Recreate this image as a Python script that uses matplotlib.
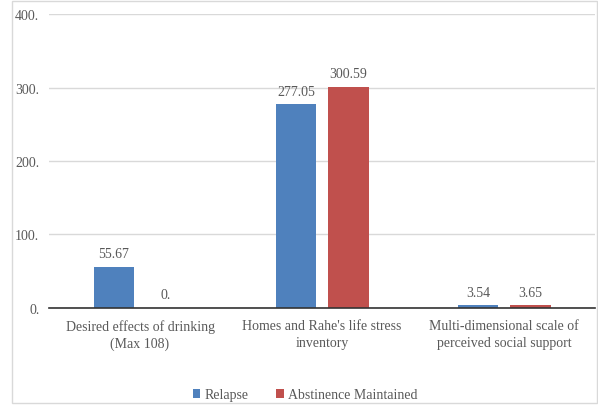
import numpy as np
import matplotlib.pyplot as plt
from matplotlib.patches import Rectangle

categories = ["Desired effects of drinking\n(Max 108)",
              "Homes and Rahe's life stress\ninventory",
              "Multi-dimensional scale of\nperceived social support"]
relapse = [55.67, 277.05, 3.54]
abstinence = [0, 300.59, 3.65]
relapse_labels = ["55.67", "277.05", "3.54"]
abstinence_labels = ["0.", "300.59", "3.65"]
yticks = [0, 100, 200, 300, 400]
ytick_labels = ["0.", "100.", "200.", "300.", "400."]

plt.rcParams['font.family'] = ['Liberation Serif', 'DejaVu Serif']
txt = '#595959'

fig = plt.figure(figsize=(5.98, 4.06), dpi=100)
ax = fig.add_axes([0.082, 0.239, 0.913, 0.724])

x = np.arange(len(categories))
w = 0.225
off = 0.143
b1 = ax.bar(x - off, relapse, w, color='#4F81BD', label='Relapse', zorder=3)
b2 = ax.bar(x + off, abstinence, w, color='#C0504D', label='Abstinence Maintained', zorder=3)

for rect, lab in zip(b1, relapse_labels):
    ax.text(rect.get_x() + rect.get_width() / 2, rect.get_height() + 9, lab,
            ha='center', va='bottom', fontsize=10, color=txt, zorder=4)
for rect, lab in zip(b2, abstinence_labels):
    ax.text(rect.get_x() + rect.get_width() / 2, rect.get_height() + 9, lab,
            ha='center', va='bottom', fontsize=10, color=txt, zorder=4)

ax.set_xlim(-0.5, 2.5)
ax.set_ylim(0, 400)
ax.set_yticks(yticks)
ax.set_yticklabels(ytick_labels, fontsize=10, color=txt)
ax.set_xticks(x)
ax.set_xticklabels(categories, fontsize=10, color=txt, linespacing=1.4)
ax.tick_params(length=0, pad=7)
ax.tick_params(axis='x', pad=8)
ax.grid(axis='y', color='#d9d9d9', linewidth=1, zorder=0)
for s in ['top', 'right', 'left']:
    ax.spines[s].set_visible(False)
ax.spines['bottom'].set_color('#333333')
ax.spines['bottom'].set_linewidth(1.2)
ax.spines['bottom'].set_zorder(5)

leg = fig.legend(loc='center', bbox_to_anchor=(0.51, 0.025), ncol=2, frameon=False,
                 fontsize=10, handlelength=0.55, handleheight=0.55, handletextpad=0.3,
                 columnspacing=2.0)
for t in leg.get_texts():
    t.set_color(txt)

# outer chart border
fig.patches.append(Rectangle((0.02, 0.004), 0.978, 0.992, transform=fig.transFigure,
                             fill=False, edgecolor='#d9d9d9', linewidth=1))

fig.savefig("out.png", dpi=100)
